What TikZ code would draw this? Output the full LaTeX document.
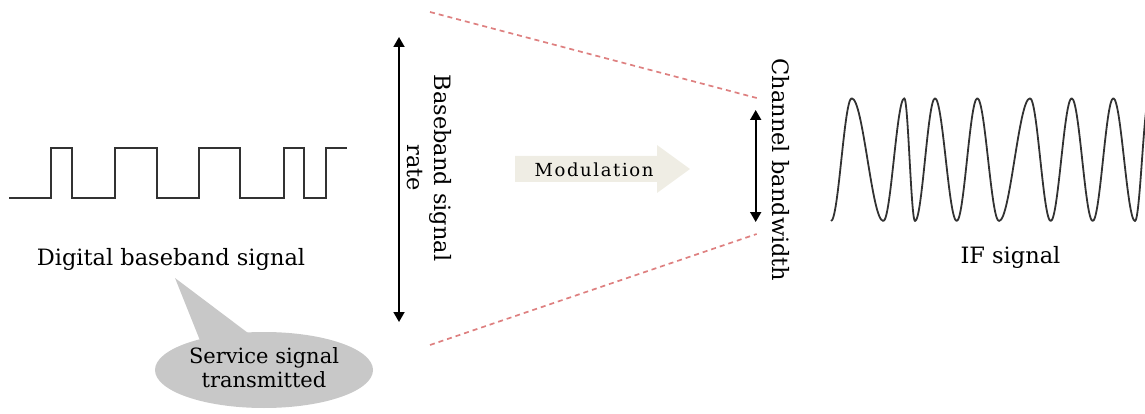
\documentclass[tikz,border=0pt]{standalone}
\usepackage{fontspec}
\setmainfont{DejaVu Serif}
\usetikzlibrary{arrows.meta,shapes.geometric}
\definecolor{wave}{RGB}{50,50,50}
\definecolor{dashred}{RGB}{222,128,128}
\definecolor{modfill}{RGB}{239,237,228}
\definecolor{calloutgray}{RGB}{200,200,200}
\tikzset{
  signal/.style={draw=wave,line width=1.8pt,line join=miter},
  guide/.style={draw=dashred,line width=1.7pt,dash pattern=on 5pt off 4pt},
  span/.style={draw=black,line width=1.8pt,{Triangle[length=10pt,width=11pt]}-{Triangle[length=10pt,width=11pt]}},
  lbl/.style={inner sep=0pt,font=\fontsize{22.5}{27}\selectfont},
}
\begin{document}
\begin{tikzpicture}[x=1pt,y=-1pt]
\useasboundingbox (0,0) rectangle (1145,414);

% digital baseband square wave
\draw[signal] (9,197.7) -- (50.7,197.7) -- (50.7,147.7) -- (72,147.7) -- (72,197.7)
  -- (115,197.7) -- (115,147.7) -- (156.7,147.7) -- (156.7,197.7)
  -- (199,197.7) -- (199,147.7) -- (240,147.7) -- (240,197.7)
  -- (283.7,197.7) -- (283.7,147.7) -- (304,147.7) -- (304,197.7)
  -- (325.7,197.7) -- (325.7,147.7) -- (346.7,147.7);
\node[lbl,anchor=base] (dbs) at (171,265.7) {Digital baseband signal};

% callout
\fill[calloutgray] (175,278) -- (203,348) -- (252,336) -- cycle;
\node[ellipse,fill=calloutgray,minimum width=218pt,minimum height=76pt,inner sep=0pt] (call) at (264,370) {};
\node[inner sep=0pt,align=center,font=\fontsize{21}{24}\selectfont] (calltxt) at (264,368) {Service signal\\transmitted};

% dashed guides
\coordinate (gul) at (430,12);
\coordinate (gur) at (756.7,98);
\coordinate (gll) at (430,345);
\coordinate (glr) at (756.7,234);
\draw[guide] (gul) -- (gur);
\draw[guide] (gll) -- (glr);

% baseband rate arrow
\coordinate (bt) at (399,37);
\coordinate (bb) at (399,322);
\draw[span] (bt) -- (bb);
\node[lbl,rotate=-90,align=center] (bsr) at (429,168) {Baseband signal\\rate};

% modulation arrow
\fill[modfill] (515,156) -- (657,156) -- (657,145) -- (690,169) -- (657,193) -- (657,182) -- (515,182) -- cycle;
\node[inner sep=0pt,font=\fontsize{18}{20}\selectfont\addfontfeature{LetterSpace=9}] (mod) at (594,170) {Modulation};

% channel bandwidth arrow
\coordinate (ct) at (755.7,110);
\coordinate (cb) at (755.7,222);
\draw[span] (ct) -- (cb);
\node[lbl,rotate=-90] (cbw) at (781,170) {Channel bandwidth};

% IF signal
\draw[signal,line join=round] (831,221) cos (841.35,159.6) sin (851.7,98.3) cos (867.5,159.6) sin (883.3,221)
  cos (893.8,159.6) sin (904.3,98.3) cos (909.6,159.6) sin (915,221)
  cos (925,159.6) sin (935,98.3) cos (945.8,159.6) sin (956.7,221)
  cos (967,159.6) sin (977.3,98.3) cos (988.1,159.6) sin (999,221)
  cos (1014.5,159.6) sin (1030,98.3) cos (1040.3,159.6) sin (1050.7,221)
  cos (1061.2,159.6) sin (1071.7,98.3) cos (1082.2,159.6) sin (1092.7,221)
  cos (1103,159.6) sin (1113.3,98.3) cos (1124.1,159.6) sin (1135,221)
  cos (1142,159.6) sin (1149,98.3);
\node[lbl,anchor=base] (ifs) at (1010.5,263.3) {IF signal};
\end{tikzpicture}
\end{document}
